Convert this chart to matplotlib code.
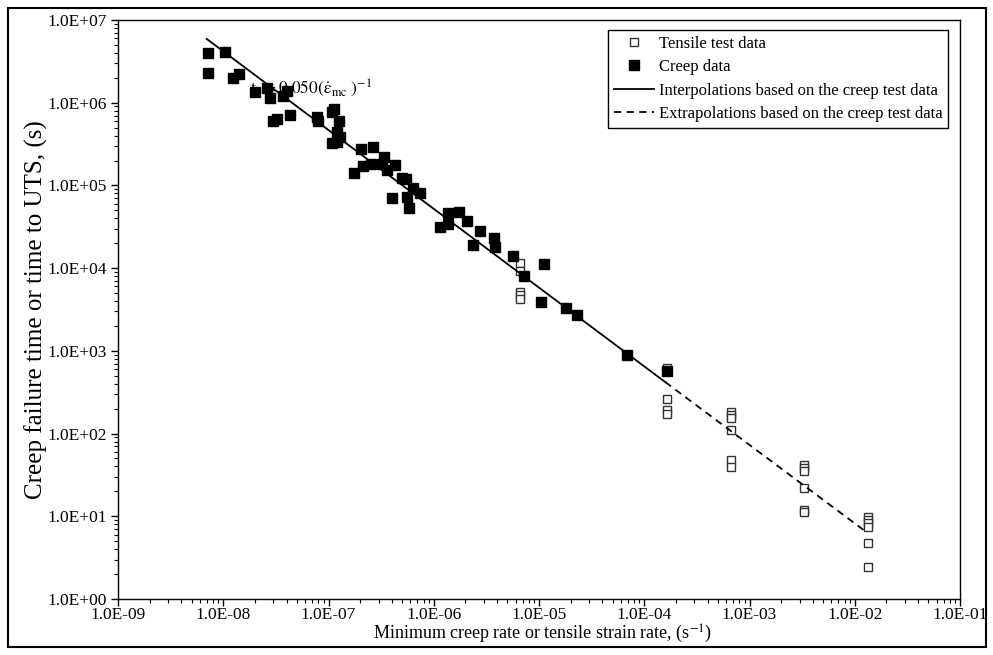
import numpy as np
import matplotlib
matplotlib.use("Agg")
import matplotlib.pyplot as plt
from matplotlib.ticker import FuncFormatter, LogLocator, NullFormatter
from matplotlib.patches import Rectangle

plt.rcParams['font.family'] = ['Liberation Serif', 'DejaVu Serif']
plt.rcParams['mathtext.fontset'] = 'stix'

# creep test data: minimum creep rate (1/s) and failure time (s)
creep_rate = [7.2e-9, 1.04e-8, 7.2e-9, 1.25e-8, 1.41e-8, 2.0e-8, 2.62e-8, 2.78e-8,
              3.72e-8, 4.0e-8, 3.27e-8, 2.95e-8, 4.3e-8, 7.83e-8, 8.0e-8, 1.07e-7,
              1.13e-7, 1.27e-7, 1.21e-7, 1.29e-7, 1.07e-7, 1.2e-7, 2.04e-7, 2.67e-7,
              1.75e-7, 2.11e-7, 2.52e-7, 3.37e-7, 3.2e-7, 3.62e-7, 4.28e-7, 4.96e-7,
              5.45e-7, 6.4e-7, 3.99e-7, 5.53e-7, 5.86e-7, 7.4e-7, 1.37e-6, 1.74e-6,
              1.15e-6, 1.37e-6, 2.08e-6, 2.75e-6, 3.73e-6, 2.34e-6, 3.82e-6, 5.62e-6,
              7.25e-6, 1.12e-5, 1.04e-5, 1.81e-5, 2.28e-5, 6.8e-5, 1.63e-4]
creep_time = [3.95e6, 4.06e6, 2.27e6, 1.97e6, 2.22e6, 1.36e6, 1.49e6, 1.13e6,
              1.2e6, 1.38e6, 6.3e5, 6.05e5, 7.1e5, 6.8e5, 6.05e5, 7.8e5,
              8.3e5, 6.05e5, 4.46e5, 3.88e5, 3.23e5, 3.37e5, 2.74e5, 2.89e5,
              1.43e5, 1.72e5, 1.82e5, 2.22e5, 1.82e5, 1.53e5, 1.77e5, 1.22e5,
              1.19e5, 9.2e4, 6.98e4, 7.3e4, 5.28e4, 8.2e4, 4.68e4, 4.81e4,
              3.11e4, 3.41e4, 3.72e4, 2.83e4, 2.33e4, 1.9e4, 1.79e4, 1.41e4,
              8.0e3, 1.12e4, 3.89e3, 3.27e3, 2.71e3, 890, 574]

# tensile test data: strain rate (1/s) and time to UTS (s)
tensile_rate = [6.6e-6, 6.6e-6, 6.6e-6, 6.6e-6, 6.6e-6,
                1.63e-4, 1.63e-4, 1.63e-4, 1.63e-4,
                6.67e-4, 6.67e-4, 6.67e-4, 6.67e-4, 6.67e-4, 6.67e-4,
                3.32e-3, 3.32e-3, 3.32e-3, 3.32e-3, 3.32e-3, 3.32e-3,
                1.33e-2, 1.33e-2, 1.33e-2, 1.33e-2, 1.33e-2, 1.33e-2]
tensile_time = [1.16e4, 9.2e3, 5.2e3, 4.73e3, 4.2e3,
                620, 259, 192, 172,
                184, 168, 153, 112, 47.9, 39.7,
                41.6, 37.9, 35.2, 22.1, 11.9, 11.3,
                9.86, 9.0, 8.2, 7.5, 4.7, 2.41]

# fitted line from the creep tests
interp_x = [6.97e-9, 1.58e-4]
interp_y = [5.9e6, 420]
extrap_x = [1.58e-4, 1.3e-2]
extrap_y = [420, 6.4]

fig = plt.figure(figsize=(9.93, 6.55), dpi=100)
ax = fig.add_axes([118 / 993, 1 - 599 / 655, (960 - 118) / 993, (599 - 20) / 655])

ax.plot(tensile_rate, tensile_time, 's', ms=5.5, mfc='white', mec='#333333', mew=1.0,
        ls='none', label='Tensile test data', zorder=2)
ax.plot(creep_rate, creep_time, 's', ms=7, mfc='black', mec='black',
        ls='none', label='Creep data', zorder=4)
ax.plot(interp_x, interp_y, '-', color='black', lw=1.3,
        label='Interpolations based on the creep test data', zorder=3)
ax.plot(extrap_x, extrap_y, '--', color='black', lw=1.3, dashes=(4, 3),
        label='Extrapolations based on the creep test data', zorder=3)

ax.set_xscale('log')
ax.set_yscale('log')
ax.set_xlim(1e-9, 1e-1)
ax.set_ylim(1e0, 1e7)

fmt = FuncFormatter(lambda v, p: '{:.1E}'.format(v).replace('E-0', 'E-').replace('E-', 'E-0'))
ax.xaxis.set_major_formatter(fmt)
ax.yaxis.set_major_formatter(fmt)
ax.xaxis.set_major_locator(LogLocator(base=10, numticks=20))
ax.yaxis.set_major_locator(LogLocator(base=10, numticks=20))
ax.xaxis.set_minor_locator(LogLocator(base=10, subs=np.arange(2, 10), numticks=20))
ax.yaxis.set_minor_locator(LogLocator(base=10, subs=np.arange(2, 10), numticks=20))
ax.xaxis.set_minor_formatter(NullFormatter())
ax.yaxis.set_minor_formatter(NullFormatter())
ax.tick_params(which='major', direction='out', length=5, width=1, labelsize=12.5)
ax.tick_params(axis='x', which='major', pad=0.5)
ax.tick_params(axis='y', which='major', pad=3)
ax.tick_params(which='minor', direction='out', length=3, width=0.8)
for s in ax.spines.values():
    s.set_linewidth(1.0)

ax.set_xlabel('Minimum creep rate or tensile strain rate, (s$^{-1}$)', fontsize=13)
ax.xaxis.set_label_coords((543 - 118) / 842, -(634 - 599) / 579, transform=ax.transAxes)
ax.xaxis.label.set_va('center')
ax.set_ylabel('Creep failure time or time to UTS, (s)', fontsize=18)
ax.yaxis.set_label_coords(-(118 - 36) / 842, 0.5, transform=ax.transAxes)
ax.yaxis.label.set_va('center')

ax.text(1.8e-8, 1.3e6, r'$\mathrm{t_c = 0.050(\dot{\varepsilon}_{mc}\ )^{-1}}$',
        fontsize=12.5, zorder=5)

leg = ax.legend(loc='upper right', bbox_to_anchor=(0.9857, 0.983), borderaxespad=0,
                fontsize=12, frameon=True, fancybox=False, edgecolor='black', framealpha=1,
                handlelength=2.4, handletextpad=0.3, borderpad=0.35, labelspacing=0.45)
leg.get_frame().set_linewidth(1.0)

fig.patches.append(Rectangle((8 / 993, 1 - 647 / 655), 978 / 993, 639 / 655,
                             transform=fig.transFigure, fill=False, ec='black', lw=1.5))

fig.savefig('out.png', dpi=100)
